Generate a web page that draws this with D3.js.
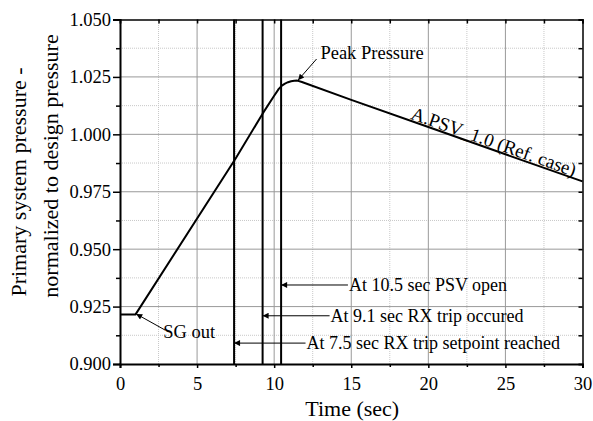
<!DOCTYPE html>
<html>
<head>
<meta charset="utf-8">
<script src="https://cdn.jsdelivr.net/npm/d3@7"></script>
<style>
  body { margin: 0; background: #fff; }
</style>
</head>
<body>
<svg id="chart"></svg>
<script>
// series
const timeSec = [0, 1.0, 7.5, 9.25, 10.0, 10.3, 10.5, 10.7, 10.9, 11.1, 11.3, 11.5, 11.8, 15, 20, 25, 30];
const pressure = [0.9215, 0.9215, 0.9895, 1.009, 1.0168, 1.0198, 1.0212, 1.0221, 1.0227, 1.0231, 1.0233, 1.0234, 1.0228, 1.0150, 1.0032, 0.9913, 0.9795];

const eventTimes = [7.4, 9.25, 10.45];
const eventLabels = ['At 10.5 sec PSV open', 'At 9.1 sec RX trip occured', 'At 7.5 sec RX trip setpoint reached'];
const eventTips = [10.45, 9.25, 7.4];
const eventArrowY = [0.9344, 0.9210, 0.9091];
const eventTextX = [14.85, 13.66, 12.1];

const xTicks = [0, 5, 10, 15, 20, 25, 30];
const yTicks = [0.900, 0.925, 0.950, 0.975, 1.000, 1.025, 1.050];

const W = 593, H = 421;
const margin = { top: 19.5, right: 10.5, bottom: 57, left: 120 };
const serif = '"Liberation Serif", "Times New Roman", Tinos, Times, serif';

let svg = d3.select('#chart').attr('width', W).attr('height', H)
  .attr('font-family', serif);

let x = d3.scaleLinear().domain([0, 30]).range([margin.left, W - margin.right]);
let y = d3.scaleLinear().domain([0.9, 1.05]).range([H - margin.bottom, margin.top]);

let defs = svg.append('defs');
defs.append('marker')
  .attr('id', 'arrow')
  .attr('viewBox', '0 0 10 10')
  .attr('refX', 10).attr('refY', 5)
  .attr('markerWidth', 9).attr('markerHeight', 6)
  .attr('markerUnits', 'userSpaceOnUse')
  .attr('orient', 'auto')
  .append('path').attr('d', 'M0,0 L10,5 L0,10 z').attr('fill', '#000');

let minorX = d3.range(2.5, 30, 5);
let minorY = d3.range(0.9125, 1.05, 0.025);

// grid
let grid = svg.append('g');
grid.selectAll('.mx').data(minorX).enter().append('line')
  .attr('x1', d => x(d)).attr('x2', d => x(d))
  .attr('y1', y(0.9)).attr('y2', y(1.05))
  .attr('stroke', '#c8c8c8').attr('stroke-dasharray', '1,1');
grid.selectAll('.my').data(minorY).enter().append('line')
  .attr('y1', d => y(d)).attr('y2', d => y(d))
  .attr('x1', x(0)).attr('x2', x(30))
  .attr('stroke', '#c8c8c8').attr('stroke-dasharray', '1,1');
grid.selectAll('.gx').data(xTicks.slice(1, -1)).enter().append('line')
  .attr('x1', d => x(d)).attr('x2', d => x(d))
  .attr('y1', y(0.9)).attr('y2', y(1.05))
  .attr('stroke', '#999');
grid.selectAll('.gy').data(yTicks.slice(1, -1)).enter().append('line')
  .attr('y1', d => y(d)).attr('y2', d => y(d))
  .attr('x1', x(0)).attr('x2', x(30))
  .attr('stroke', '#999');

// event lines
svg.append('g').selectAll('line').data(eventTimes).enter().append('line')
  .attr('x1', d => x(d)).attr('x2', d => x(d))
  .attr('y1', y(0.9)).attr('y2', y(1.05))
  .attr('stroke', '#000').attr('stroke-width', 2);

// frame + axes
let axBottom = svg.append('g').attr('transform', `translate(0,${y(0.9)})`)
  .call(d3.axisBottom(x).tickValues(xTicks).tickSize(4).tickPadding(9).tickFormat(d3.format('d')));
axBottom.append('g').call(d3.axisBottom(x).tickValues(minorX).tickSize(3).tickFormat(''));
let axLeft = svg.append('g').attr('transform', `translate(${x(0)},0)`)
  .call(d3.axisLeft(y).tickValues(yTicks).tickSize(7).tickPadding(2).tickFormat(d3.format('.3f')));
axLeft.append('g').call(d3.axisLeft(y).tickValues(minorY).tickSize(4).tickFormat(''));
let axTop = svg.append('g').attr('transform', `translate(0,${y(1.05)})`)
  .call(d3.axisTop(x).tickValues(xTicks.concat(minorX)).tickSize(-4).tickFormat(''));
let axRight = svg.append('g').attr('transform', `translate(${x(30)},0)`)
  .call(d3.axisRight(y).tickValues(yTicks.concat(minorY)).tickSize(-4).tickFormat(''));

[axBottom, axLeft, axTop, axRight].forEach(a => {
  a.attr('font-family', serif).attr('font-size', 18.5);
  a.selectAll('path, line').attr('stroke', '#000');
  a.selectAll('line').attr('stroke-width', 1.5);
});
axBottom.select('.domain').attr('stroke-width', 2);
axLeft.select('.domain').attr('stroke-width', 2);
axTop.select('.domain').attr('stroke-width', 1.5);
axRight.select('.domain').attr('stroke-width', 1.5);

// curve
let line = d3.line().x(d => x(d[0])).y(d => y(d[1]));
svg.append('path')
  .datum(timeSec.map((t, i) => [t, pressure[i]]))
  .attr('d', line)
  .attr('fill', 'none').attr('stroke', '#000').attr('stroke-width', 2)
  .attr('stroke-linejoin', 'round');

// event annotations
let ann = svg.append('g');
eventLabels.forEach((label, i) => {
  ann.append('line')
    .attr('x1', x(eventTextX[i]) - 1).attr('x2', x(eventTips[i]))
    .attr('y1', y(eventArrowY[i])).attr('y2', y(eventArrowY[i]))
    .attr('stroke', '#000').attr('stroke-width', 1)
    .attr('marker-end', 'url(#arrow)');
  ann.append('text')
    .attr('x', x(eventTextX[i])).attr('y', y(eventArrowY[i]) + 6)
    .attr('font-size', 18)
    .text(label);
});

// SG out
ann.append('line')
  .attr('x1', 165).attr('y1', 330)
  .attr('x2', x(1.05)).attr('y2', y(0.9218))
  .attr('stroke', '#000').attr('marker-end', 'url(#arrow)');
ann.append('text').attr('x', x(2.8)).attr('y', y(0.9113))
  .attr('font-size', 18.5).text('SG out');

// Peak pressure
ann.append('line')
  .attr('x1', x(12.75)).attr('y1', y(1.0328))
  .attr('x2', x(11.55)).attr('y2', y(1.0236))
  .attr('stroke', '#000').attr('marker-end', 'url(#arrow)');
ann.append('text').attr('x', x(13.0)).attr('y', y(1.0328))
  .attr('font-size', 18.5).text('Peak Pressure');

// series label along the line
let angle = Math.atan2(y(0.9795) - y(1.0234), x(30) - x(11.5)) * 180 / Math.PI;
ann.append('text')
  .attr('transform', `translate(${x(18.8)},${y(1.0055) - 3}) rotate(${angle})`)
  .attr('font-size', 19)
  .text('A.PSV_1.0 (Ref. case)');

// axis titles
svg.append('text')
  .attr('x', (x(0) + x(30)) / 2 + 1).attr('y', 416)
  .attr('text-anchor', 'middle')
  .attr('font-size', 22)
  .text('Time (sec)');
svg.append('text')
  .attr('transform', 'translate(26,182) rotate(-90)')
  .attr('text-anchor', 'middle')
  .attr('font-size', 22)
  .text('Primary system pressure -');
svg.append('text')
  .attr('transform', 'translate(58,166) rotate(-90)')
  .attr('text-anchor', 'middle')
  .attr('font-size', 22)
  .text('normalized to design pressure');
</script>
</body>
</html>
